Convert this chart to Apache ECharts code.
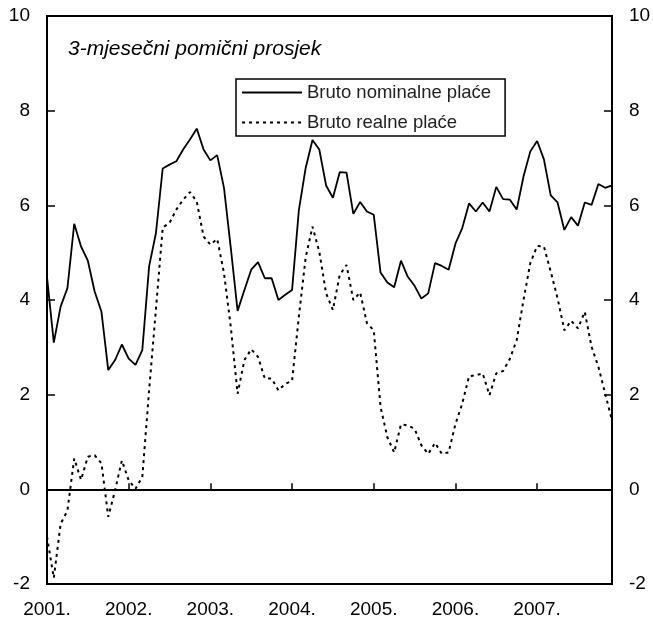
<!doctype html>
<html lang="hr">
<head>
<meta charset="UTF-8">
<title>Place</title>
<script src="https://cdn.jsdelivr.net/npm/echarts@6/dist/echarts.min.js"></script>
<style>
  html, body { margin: 0; padding: 0; background: #fff; }
</style>
</head>
<body>
<div id="main" style="width:653px;height:628px;"></div>
<script type="text/javascript">
// godine na osi x (oznake)
var years = ['2001.', '2002.', '2003.', '2004.', '2005.', '2006.', '2007.'];

// bruto nominalne place, 3-mjesecni pomicni prosjek (sij. 2001. - pro. 2007.)
var nominalne = [
  4.49, 3.10, 3.86, 4.25, 5.61, 5.13, 4.83, 4.18, 3.75, 2.52, 2.73, 3.06,
  2.76, 2.63, 2.94, 4.71, 5.41, 6.78, 6.86, 6.93, 7.18, 7.39, 7.62, 7.18,
  6.95, 7.06, 6.37, 5.10, 3.77, 4.21, 4.64, 4.80, 4.46, 4.46, 4.00, 4.11,
  4.21, 5.90, 6.79, 7.38, 7.18, 6.42, 6.16, 6.70, 6.69, 5.82, 6.07, 5.87,
  5.80, 4.58, 4.37, 4.27, 4.83, 4.49, 4.30, 4.03, 4.14, 4.78, 4.72, 4.64,
  5.19, 5.52, 6.04, 5.87, 6.06, 5.87, 6.39, 6.13, 6.12, 5.91, 6.61, 7.14,
  7.36, 6.97, 6.21, 6.06, 5.48, 5.75, 5.57, 6.06, 6.01, 6.45, 6.37, 6.42
];

// bruto realne place
var realne = [
  -1.00, -1.87, -0.73, -0.45, 0.65, 0.20, 0.69, 0.72, 0.55, -0.58, -0.02, 0.61,
  0.19, 0.01, 0.26, 2.09, 3.80, 5.53, 5.63, 5.91, 6.12, 6.28, 6.08, 5.34,
  5.17, 5.29, 4.57, 3.43, 2.02, 2.73, 2.96, 2.80, 2.34, 2.34, 2.09, 2.23,
  2.29, 3.65, 4.90, 5.55, 5.02, 4.14, 3.79, 4.53, 4.74, 4.00, 4.16, 3.51,
  3.36, 1.74, 1.10, 0.78, 1.37, 1.35, 1.28, 0.93, 0.75, 0.98, 0.75, 0.78,
  1.38, 1.81, 2.39, 2.41, 2.45, 1.99, 2.45, 2.50, 2.76, 3.15, 4.00, 4.78,
  5.14, 5.13, 4.60, 4.04, 3.36, 3.56, 3.40, 3.75, 3.01, 2.59, 2.02, 1.46
];

// mjeseci - kategorije (12 po godini)
var mjeseci = [];
for (var g = 0; g < years.length; g++) {
    for (var m = 1; m <= 12; m++) {
        mjeseci.push(years[g] + (m < 10 ? '0' + m : m));
    }
}

var font = 'Liberation Sans, Arial, sans-serif';
var myChart = echarts.init(document.getElementById('main'));

function yearTick(idx) { return idx % 12 === 0; }

var yAxisBase = {
    type: 'value',
    min: -2,
    max: 10,
    interval: 2,
    axisLine: { show: true, lineStyle: { color: '#000', width: 2 } },
    axisTick: { show: true, inside: true, length: 8, lineStyle: { color: '#000', width: 1.5 } },
    axisLabel: { color: '#000', fontSize: 19, fontFamily: font, margin: 17 },
    splitLine: { show: false }
};

var option = {
    animation: false,
    backgroundColor: '#fff',
    title: {
        text: '3-mjesečni pomični prosjek',
        left: 63,
        top: 34,
        textStyle: { fontStyle: 'italic', fontWeight: 'normal', fontSize: 21, color: '#000', fontFamily: font }
    },
    legend: {
        orient: 'vertical',
        left: 236,
        top: 79,
        padding: [4, 14, 4, 5],
        itemWidth: 60,
        itemHeight: 18,
        itemGap: 11,
        borderColor: '#000',
        borderWidth: 1.5,
        itemStyle: { opacity: 0 },
        textStyle: { color: '#222', fontSize: 18.5, fontFamily: font, lineHeight: 18 },
        data: ['Bruto nominalne plaće', 'Bruto realne plaće']
    },
    grid: {
        left: 47,
        right: 41,
        top: 16,
        bottom: 44,
        show: true,
        borderColor: '#000',
        borderWidth: 2,
        outerBoundsMode: 'none'
    },
    xAxis: {
        type: 'category',
        boundaryGap: false,
        data: mjeseci,
        axisLine: { show: true, lineStyle: { color: '#000', width: 2 } },
        axisTick: { show: true, inside: true, length: 6, interval: yearTick, lineStyle: { color: '#000', width: 1.5 } },
        axisLabel: {
            interval: yearTick,
            color: '#000', fontSize: 19, fontFamily: font, margin: 16,
            formatter: function (val) { return val.slice(0, 5); }
        },
        splitLine: { show: false }
    },
    yAxis: [
        Object.assign({}, yAxisBase, { position: 'left' }),
        Object.assign({}, yAxisBase, { position: 'right' })
    ],
    series: [
        {
            name: 'Bruto nominalne plaće',
            type: 'line',
            data: nominalne,
            symbol: 'none',
            lineStyle: { color: '#000', width: 1.8 },
            itemStyle: { color: '#000' },
            markLine: {
                silent: true,
                symbol: 'none',
                label: { show: false },
                lineStyle: { color: '#000', width: 1.5, type: 'solid' },
                data: [{ yAxis: 0 }]
            }
        },
        {
            name: 'Bruto realne plaće',
            type: 'line',
            data: realne,
            symbol: 'none',
            lineStyle: { color: '#000', width: 2, type: [3, 4] },
            itemStyle: { color: '#000' }
        }
    ]
};

myChart.setOption(option);
</script>
</body>
</html>
